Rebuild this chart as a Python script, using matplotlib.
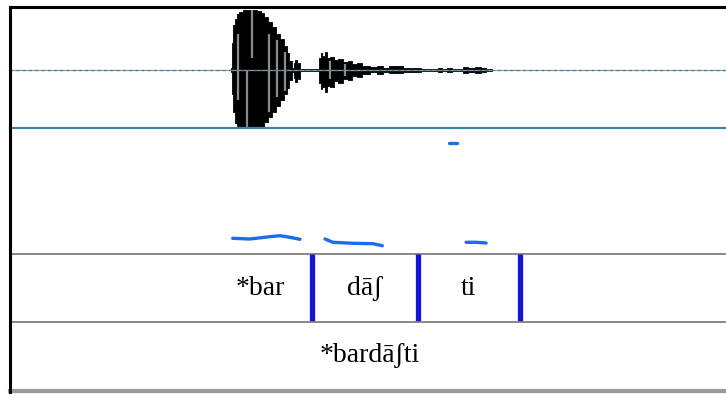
import numpy as np
import matplotlib.pyplot as plt
from matplotlib.lines import Line2D

plt.rcParams['font.family'] = ['Liberation Serif', 'DejaVu Serif']

# time axis (s)
t_max = 1.0

# waveform envelope: time, upper and lower amplitude (normalised)
wave_t = [0.3087, 0.3110, 0.3128, 0.3156, 0.3184, 0.3226, 0.3282, 0.3352, 0.3422,
          0.3478, 0.3520, 0.3575, 0.3631, 0.3687, 0.3743, 0.3799, 0.3841, 0.3883,
          0.3911, 0.3953, 0.3980, 0.3994, 0.4022, 0.4036, 0.4078, 0.4302, 0.4330,
          0.4344, 0.4372, 0.4413, 0.4455, 0.4497, 0.4553, 0.4609, 0.4679, 0.4749,
          0.4818, 0.4888, 0.4944, 0.4986, 0.5070, 0.5168, 0.5251, 0.5335, 0.5447,
          0.5531, 0.5684, 0.5796, 0.5950, 0.6006, 0.6061, 0.6145, 0.6215, 0.6300,
          0.6355, 0.6439, 0.6536, 0.6620, 0.6676, 0.6732]
wave_hi = [0.03, 0.45, 0.75, 0.85, 0.93, 0.97, 1.00, 1.00, 1.00,
           0.98, 0.95, 0.88, 0.80, 0.72, 0.60, 0.52, 0.40, 0.28,
           0.15, 0.04, 0.12, 0.16, 0.10, 0.12, 0.02, 0.02, 0.20,
           0.28, 0.24, 0.30, 0.20, 0.22, 0.16, 0.18, 0.13, 0.15,
           0.10, 0.12, 0.07, 0.07, 0.05, 0.07, 0.04, 0.06, 0.06,
           0.03, 0.04, 0.01, 0.01, 0.03, 0.02, 0.03, 0.01, 0.01,
           0.05, 0.03, 0.05, 0.04, 0.02, 0.01]
wave_lo = [-0.03, -0.40, -0.70, -0.88, -0.95, -0.96, -0.97, -0.97, -0.97,
           -0.96, -0.95, -0.86, -0.78, -0.70, -0.60, -0.50, -0.40, -0.30,
           -0.17, -0.04, -0.14, -0.20, -0.12, -0.15, -0.02, -0.02, -0.22,
           -0.32, -0.28, -0.37, -0.26, -0.28, -0.19, -0.22, -0.15, -0.17,
           -0.10, -0.12, -0.07, -0.07, -0.04, -0.06, -0.04, -0.05, -0.05,
           -0.03, -0.04, -0.01, -0.01, -0.03, -0.02, -0.03, -0.01, -0.01,
           -0.05, -0.03, -0.05, -0.04, -0.02, -0.01]

# lighter striations inside the loud part: time, bottom, top
stripe_t = [0.3185, 0.3310, 0.3380, 0.3620, 0.3730, 0.3840, 0.4470, 0.4680]
stripe_lo = [-0.50, -0.97, 0.20, -0.70, -0.45, -0.35, -0.15, -0.10]
stripe_hi = [0.60, 0.00, 1.00, 0.60, 0.50, 0.30, 0.15, 0.10]

# pitch track (Hz), one list per voiced stretch
pitch_segments = [
    ([0.311, 0.335, 0.363, 0.377, 0.391, 0.405], [128, 125.6, 133.4, 136.7, 131.3, 124.6]),
    ([0.440, 0.451, 0.479, 0.507, 0.520], [125.6, 114.5, 111.1, 109.7, 103.0]),
    ([0.613, 0.624], [450, 450]),
    ([0.637, 0.651, 0.665], [114.5, 114.5, 112.1]),
]
pitch_min, pitch_max = 75, 500

# text tiers
boundaries = [0.422, 0.570, 0.712]
syllables = ['*bar', 'dāʃ', 'ti']
syllable_t = [0.350, 0.496, 0.640]
word = '*bardāʃti'
word_t = 0.503

W, H = 726, 394
fig = plt.figure(figsize=(W / 100, H / 100), dpi=100)
fig.patch.set_facecolor('white')


def panel(top, bottom):
    return fig.add_axes([10 / W, (H - bottom) / H, (W - 10) / W, (bottom - top) / H])


ax_wave = panel(7, 128)
ax_pitch = panel(128, 254)
ax_tier1 = panel(254, 322)
ax_tier2 = panel(322, 391)

for ax in [ax_wave, ax_pitch, ax_tier1, ax_tier2]:
    ax.set_xlim(0, t_max)
    ax.set_xticks([])
    ax.set_yticks([])
    ax.patch.set_alpha(0)
    ax.spines['right'].set_visible(False)
    ax.spines['top'].set_visible(False)
    ax.spines['left'].set_visible(False)
    ax.spines['bottom'].set_color('#7f7f7f')
    ax.spines['bottom'].set_linewidth(1.3)

# waveform
ax_wave.set_ylim(-58 / 60, 63 / 60)
ax_wave.axhline(0, color='#8c9ba2', lw=0.9)
ax_wave.axhline(0, color='#2f7f9f', lw=0.9, ls=(0, (2, 3)))
ax_wave.fill_between(wave_t, wave_lo, wave_hi, color='black', lw=0.6, step='mid')
ax_wave.vlines(stripe_t, stripe_lo, stripe_hi, color='#8a8a8a', lw=1.6)
ax_wave.spines['top'].set_visible(True)
ax_wave.spines['top'].set_color('black')
ax_wave.spines['top'].set_linewidth(2.2)
ax_wave.spines['bottom'].set_color('#3a86a8')
ax_wave.spines['bottom'].set_linewidth(1.6)

# pitch
ax_pitch.set_ylim(pitch_min, pitch_max)
for st, sf in pitch_segments:
    ax_pitch.plot(st, sf, color='#1c6cf0', lw=2.4, solid_capstyle='round')

# syllable tier
ax_tier1.set_ylim(0, 1)
ax_tier1.vlines(boundaries, 0, 1, color='#1414d2', lw=3.8)
for s, st in zip(syllables, syllable_t):
    ax_tier1.text(st, 0.40, s, ha='center', va='baseline', fontsize=20)

# word tier
ax_tier2.set_ylim(0, 1)
ax_tier2.text(word_t, 0.42, word, ha='center', va='baseline', fontsize=20)
ax_tier2.spines['bottom'].set_color('#9a9a9a')
ax_tier2.spines['bottom'].set_linewidth(3)

# left frame line
fig.add_artist(Line2D([10 / W, 10 / W], [0, (H - 7) / H], color='black', lw=2.2))

fig.savefig('out.png', dpi=100)
